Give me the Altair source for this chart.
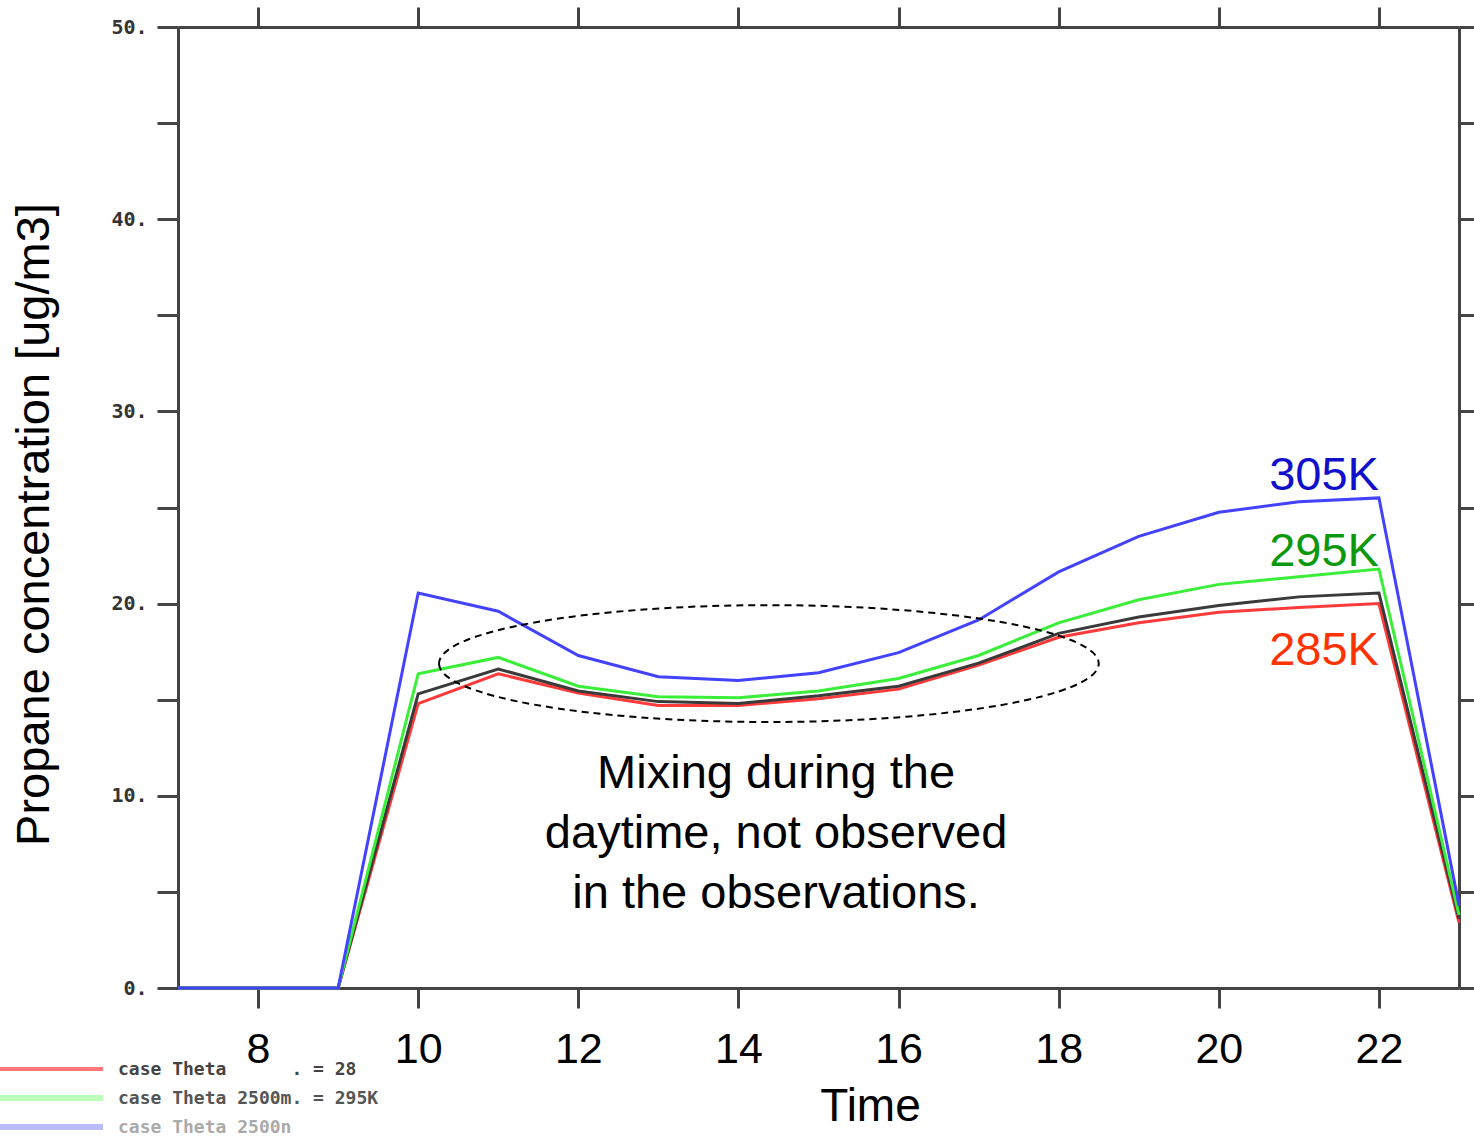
import altair as alt
import pandas as pd

# ---------------- data ----------------
hours = [7, 8, 9, 10, 11, 12, 13, 14, 15, 16, 17, 18, 19, 20, 21, 22, 23]

series_names = ["case Theta 2500m = 285K", "control", "case Theta 2500m = 295K", "case Theta 2500m = 305K"]
red_vals = [0, 0, 0, 14.8, 16.35, 15.35, 14.7, 14.7, 15.05, 15.55, 16.8, 18.25, 19.0, 19.55, 19.8, 20.0, 3.4]
black_vals = [0, 0, 0, 15.3, 16.6, 15.45, 14.9, 14.8, 15.2, 15.7, 16.9, 18.45, 19.3, 19.9, 20.35, 20.55, 3.6]
green_vals = [0, 0, 0, 16.35, 17.2, 15.7, 15.15, 15.1, 15.45, 16.1, 17.3, 19.0, 20.2, 21.0, 21.4, 21.8, 3.8]
blue_vals = [0, 0, 0, 20.55, 19.6, 17.3, 16.2, 16.0, 16.4, 17.45, 19.15, 21.65, 23.5, 24.75, 25.3, 25.5, 4.3]
series_colors = ["#ff3a3a", "#3a3a3a", "#3aee3a", "#4242ff"]

x_ticks = [8, 10, 12, 14, 16, 18, 20, 22]
y_ticks = [0, 5, 10, 15, 20, 25, 30, 35, 40, 45, 50]

end_labels = ["305K", "295K", "285K"]
end_label_x = [22, 22, 22]
end_label_y = [25.9, 21.95, 16.8]
end_label_colors = ["#1010cc", "#0c980c", "#ff3300"]

note_text = "Mixing during the\ndaytime, not observed\n\u00a0in the observations."
note_x = [14.47]
note_y = [10.41]

ell_cx, ell_cy = 14.38, 16.88      # ellipse centre (hours, ug/m3)
ell_rx, ell_ry = 4.12, 3.04        # semi-axes (hours, ug/m3)

legend_labels = [["case Theta", ". = 28"], ["case Theta 2500m. = 295K"], ["case Theta 2500n"]]
legend_line_colors = ["#ff7777", "#bbffbb", "#bbbbff"]
legend_text_colors = ["#444444", "#555555", "#aaaaaa"]

# ---------------- layout ----------------
W, H = 1281, 961
PAD_L, PAD_T = 178, 27
X0, X1, Y0, Y1 = 7, 23, 0, 50
AX = "#444444"
FONT = "Liberation Sans"

rows = []
for name, vals in zip(series_names, [red_vals, black_vals, green_vals, blue_vals]):
    for h, v in zip(hours, vals):
        rows.append({"hour": h, "conc": v, "series": name})
df = pd.DataFrame(rows)

xs = alt.Scale(domain=[X0, X1], nice=False, zero=False)
ys = alt.Scale(domain=[Y0, Y1], nice=False, zero=False)

lines = alt.Chart(df).mark_line(strokeWidth=3).encode(
    x=alt.X("hour:Q", scale=xs, axis=alt.Axis(
        orient="bottom", values=x_ticks, grid=False,
        tickSize=20, tickWidth=3, tickColor=AX,
        domainColor=AX, domainWidth=3,
        labelFont=FONT, labelFontSize=43, labelColor="black",
        labelPadding=54, labelBaseline="alphabetic", labelFlush=False, labelOverlap=False,
        title="Time", titleFont=FONT, titleFontSize=46, titleFontWeight="normal",
        titleColor="black", titleX=692, titleY=132, titleBaseline="alphabetic", titleAlign="center",
    )),
    y=alt.Y("conc:Q", scale=ys, axis=alt.Axis(
        orient="left", values=y_ticks, grid=False,
        tickSize=21, tickWidth=3, tickColor=AX,
        domainColor=AX, domainWidth=3,
        labelExpr="datum.value % 10 === 0 ? datum.value + '.' : ''",
        labelFont="DejaVu Sans Mono", labelFontSize=20, labelFontWeight="bold", labelColor="#333333",
        labelPadding=10, labelBaseline="middle", labelFlush=False, labelOverlap=False,
        title="Propane concentration [ug/m3]", titleFont=FONT, titleFontSize=47,
        titleFontWeight="normal", titleColor="black", titleAngle=270,
        titleX=-130, titleY=497, titleBaseline="alphabetic", titleAlign="center",
    )),
    color=alt.Color("series:N", scale=alt.Scale(domain=series_names, range=series_colors), legend=None),
)

frame = alt.Chart(df).mark_line(opacity=0).encode(
    x=alt.X("hour:Q", scale=xs, axis=alt.Axis(
        orient="top", values=x_ticks, grid=False, labels=False, title=None,
        tickSize=20, tickWidth=3, tickColor=AX, domainColor=AX, domainWidth=3)),
    y=alt.Y("conc:Q", scale=ys, axis=alt.Axis(
        orient="right", values=y_ticks, grid=False, labels=False, title=None,
        tickSize=16, tickWidth=3, tickColor=AX, domainColor=AX, domainWidth=3)),
    detail="series:N",
)

# ellipse as a custom symbol
rx_px = ell_rx * W / (X1 - X0)
ry_px = ell_ry * H / (Y1 - Y0)
ratio = ry_px / rx_px
ell_path = f"M -1 0 A 1 {ratio:.4f} 0 1 0 1 0 A 1 {ratio:.4f} 0 1 0 -1 0 Z"
ellipse = alt.Chart(pd.DataFrame({"x": [ell_cx], "y": [ell_cy]})).mark_point(
    shape=ell_path, size=(2 * rx_px) ** 2, filled=False, stroke="black",
    strokeWidth=2, strokeDash=[7, 5], opacity=1,
).encode(
    x=alt.X("x:Q", scale=xs, axis=None),
    y=alt.Y("y:Q", scale=ys, axis=None),
)

lab_df = pd.DataFrame({"label": end_labels, "x": end_label_x, "y": end_label_y, "c": end_label_colors})
end_text = alt.Chart(lab_df).mark_text(
    font=FONT, fontSize=47, align="right", baseline="alphabetic",
).encode(
    x=alt.X("x:Q", scale=xs, axis=None),
    y=alt.Y("y:Q", scale=ys, axis=None),
    text="label:N",
    color=alt.Color("c:N", scale=None),
)

note = alt.Chart(pd.DataFrame({"x": note_x, "y": note_y, "t": [note_text]})).mark_text(
    font=FONT, fontSize=47, align="center", baseline="alphabetic",
    lineBreak="\n", lineHeight=60, color="black",
).encode(
    x=alt.X("x:Q", scale=xs, axis=None),
    y=alt.Y("y:Q", scale=ys, axis=None),
    text="t:N",
)

# faded legend remnants (bottom left, outside the plot area)
dummy = pd.DataFrame({"a": [0]})
legend_layers = []
char_w = 10.84
for i, (parts, lc, tc) in enumerate(zip(legend_labels, legend_line_colors, legend_text_colors)):
    row_y = 1069 + 29 * i - PAD_T
    legend_layers.append(
        alt.Chart(dummy).mark_rule(color=lc, strokeWidth=4 if i == 0 else 6).encode(
            x=alt.value(-PAD_L), x2=alt.value(103 - PAD_L), y=alt.value(row_y))
    )
    offsets = [0, 16] if len(parts) == 2 else [0]
    for part, off in zip(parts, offsets):
        legend_layers.append(
            alt.Chart(dummy).mark_text(
                font="DejaVu Sans Mono", fontSize=18, fontWeight="bold", align="left",
                baseline="middle", color=tc,
            ).encode(x=alt.value(118 - PAD_L + off * char_w), y=alt.value(row_y + 1), text=alt.value(part))
        )

chart = alt.layer(frame, lines, ellipse, end_text, note, *legend_layers).resolve_scale(
    x="independent", y="independent"
).properties(
    width=W, height=H,
    padding={"left": PAD_L, "top": PAD_T, "right": 1474 - PAD_L - W, "bottom": 1139 - PAD_T - H},
    autosize="none", background="white",
).configure_view(stroke=None)

chart.save("out.html", embed_options={"renderer": "svg", "actions": False})
